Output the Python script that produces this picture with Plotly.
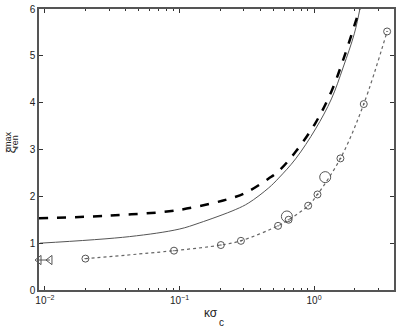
import plotly.graph_objects as go

# solid curve
solid_x = [0.0092, 0.0425, 0.0995, 0.14, 0.262, 0.327, 0.46, 0.546, 0.729, 1.026, 1.346, 1.648, 1.99, 2.19, 2.36]
solid_y = [1.0, 1.14, 1.30, 1.43, 1.72, 1.86, 2.18, 2.39, 2.80, 3.44, 4.08, 4.76, 5.47, 6.0, 6.5]

# dashed curve
dash_x = [0.009, 0.0302, 0.0995, 0.262, 0.327, 0.46, 0.546, 0.729, 1.026, 1.346, 1.648, 1.99, 2.17, 2.33]
dash_y = [1.53, 1.59, 1.71, 1.99, 2.11, 2.38, 2.54, 2.95, 3.57, 4.24, 4.92, 5.64, 6.0, 6.5]

# dotted series with markers
dot_x = [0.02, 0.091, 0.203, 0.286, 0.54, 0.647, 0.904, 1.06, 1.57, 2.34, 3.49]
dot_y = [0.67, 0.84, 0.96, 1.05, 1.37, 1.50, 1.80, 2.04, 2.81, 3.97, 5.52]

# big open circles
big_x = [0.628, 1.21]
big_y = [1.57, 2.41]

# triangles at the left edge
tri_x = [0.00904, 0.0109]
tri_y = [0.64, 0.64]

fig = go.Figure()
fig.add_trace(go.Scatter(x=solid_x, y=solid_y, mode="lines", line=dict(color="#555", width=1, shape="spline")))
fig.add_trace(go.Scatter(x=dash_x, y=dash_y, mode="lines", line=dict(color="black", width=2.5, dash="dash", shape="spline")))
fig.add_trace(go.Scatter(x=dot_x, y=dot_y, mode="lines+markers",
                         line=dict(color="#666", width=1.2, dash="dot", shape="spline"),
                         marker=dict(symbol="circle-open-dot", size=7, color="#555", line=dict(width=1))))
fig.add_trace(go.Scatter(x=big_x, y=big_y, mode="markers",
                         marker=dict(symbol="circle-open", size=11, color="#555", line=dict(width=1))))
fig.add_trace(go.Scatter(x=tri_x, y=tri_y, mode="lines+markers", cliponaxis=False,
                         line=dict(color="#555", width=1),
                         marker=dict(symbol="triangle-left-open", size=8, color="#555", line=dict(width=1))))

fig.update_xaxes(type="log", range=[-2.044, 0.594],
                 tickvals=[0.01, 0.1, 1],
                 ticktext=["10<sup>−2</sup>", "10<sup>−1</sup>", "10<sup>0</sup>"],
                 ticks="inside", ticklen=4, tickcolor="#333",
                 minor=dict(ticks="inside", ticklen=2, tickcolor="#333", dtick="D1"),
                 showline=True, linecolor="#555", linewidth=1.5, mirror="ticks",
                 showgrid=False, zeroline=False)
fig.update_yaxes(range=[0, 6], dtick=1,
                 ticks="inside", ticklen=4, tickcolor="#333",
                 showline=True, linecolor="#555", linewidth=1.5, mirror="ticks",
                 showgrid=False, zeroline=False)

# axis titles
fig.add_annotation(text="κσ", xref="paper", yref="paper", x=0.485, y=-0.082,
                   xanchor="center", yanchor="middle", showarrow=False, font=dict(size=12))
fig.add_annotation(text="c", xref="paper", yref="paper", x=0.515, y=-0.114,
                   xanchor="center", yanchor="middle", showarrow=False, font=dict(size=10))
fig.add_annotation(text="ξ", xref="paper", yref="paper", x=-0.078, y=0.498,
                   textangle=-90, xanchor="center", yanchor="middle", showarrow=False, font=dict(size=12))
fig.add_annotation(text="max", xref="paper", yref="paper", x=-0.087, y=0.534,
                   textangle=-90, xanchor="center", yanchor="middle", showarrow=False, font=dict(size=9))
fig.add_annotation(text="ren", xref="paper", yref="paper", x=-0.067, y=0.527,
                   textangle=-90, xanchor="center", yanchor="middle", showarrow=False, font=dict(size=9))

fig.update_layout(width=399, height=328, showlegend=False,
                  margin=dict(l=39, r=3, t=9, b=38),
                  plot_bgcolor="white", paper_bgcolor="white",
                  font=dict(family="Liberation Sans, Arial", size=10, color="#222"))

fig.write_html("out.html", config={"displayModeBar": False},
               post_script="document.body.style.margin='0';")
